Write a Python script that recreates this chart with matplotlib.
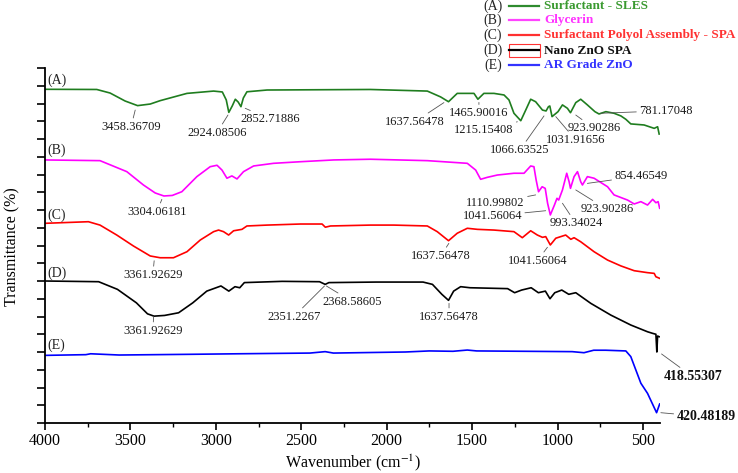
import matplotlib
matplotlib.use("Agg")
import matplotlib.pyplot as plt
from matplotlib.patches import Rectangle

plt.rcParams['font.family'] = 'Liberation Serif'
plt.rcParams['mathtext.fontset'] = 'stix'

# (A) Surfactant - SLES
sles_wn = [4000, 3697, 3619, 3531, 3458, 3384, 3326, 3169, 3013, 2962, 2939, 2924, 2904, 2886, 2869,
           2853, 2839, 2818, 2700, 2095, 1762, 1684, 1638, 1587, 1489, 1466, 1431, 1372, 1313, 1284,
           1255, 1215, 1186, 1157, 1128, 1088, 1067, 1053, 1045, 1032, 997, 971, 942, 924, 893,
           864, 825, 781, 757, 717, 669, 629, 600, 571, 493, 434, 414, 405]
sles_t = [18.80, 18.79, 18.59, 18.14, 17.88, 17.97, 18.16, 18.57, 18.70, 18.65, 18.20, 17.50, 17.86, 18.24, 18.08,
          17.82, 18.31, 18.66, 18.76, 18.79, 18.70, 18.37, 18.10, 18.57, 18.57, 18.24, 18.57, 18.57, 18.48, 18.20,
          17.45, 17.03, 17.63, 18.24, 18.10, 17.63, 17.58, 17.82, 17.86, 17.26, 17.54, 17.92, 17.73, 17.48, 18.05,
          18.24, 17.92, 17.54, 17.41, 17.54, 17.45, 17.30, 17.11, 16.85, 16.79, 16.60, 16.69, 16.28]

# (B) Glycerin
gly_wn = [4000, 3678, 3521, 3424, 3355, 3304, 3255, 3199, 3111, 3033, 2993, 2964, 2935, 2906, 2876,
          2838, 2779, 2662, 2505, 2310, 2095, 1762, 1528, 1479, 1450, 1411, 1352, 1255, 1196, 1157,
          1138, 1125, 1111, 1090, 1072, 1058, 1042, 1018, 1003, 993, 971, 946, 932, 924, 903,
          883, 864, 854, 825, 786, 707, 669, 590, 551, 512, 473, 443, 424, 411, 402]
gly_t = [14.82, 14.78, 14.16, 13.41, 12.96, 12.79, 12.82, 13.03, 13.88, 14.44, 14.52, 14.25, 13.79, 13.92, 13.75,
         14.16, 14.48, 14.63, 14.72, 14.82, 14.86, 14.78, 14.63, 14.25, 13.73, 13.84, 13.97, 14.07, 14.07, 14.48,
         14.44, 13.69, 13.03, 13.31, 13.22, 12.38, 11.72, 12.28, 12.66, 12.56, 13.13, 14.07, 13.59, 13.22, 13.88,
         14.16, 13.59, 13.41, 13.88, 13.79, 13.31, 12.85, 12.56, 12.34, 12.47, 12.28, 12.60, 12.41, 12.47, 12.10]

# (C) Surfactant Polyol Assembly - SPA
spa_wn = [4000, 3746, 3678, 3580, 3482, 3384, 3326, 3248, 3169, 3091, 3013, 2984, 2955, 2925, 2896,
          2847, 2818, 2700, 2505, 2378, 2359, 2329, 2095, 1958, 1762, 1704, 1638, 1587, 1528, 1469,
          1372, 1255, 1206, 1157, 1118, 1088, 1069, 1042, 1010, 981, 952, 922, 903, 864, 786,
          707, 629, 551, 473, 434, 424, 402]
spa_t = [11.25, 11.34, 11.15, 10.59, 9.97, 9.41, 9.31, 9.31, 9.65, 10.31, 10.78, 10.87, 10.78, 10.59, 10.83,
         10.91, 11.10, 11.15, 11.21, 11.21, 11.03, 11.10, 11.15, 11.15, 11.10, 10.78, 10.27, 10.69, 10.97, 10.91,
         10.87, 10.78, 10.44, 10.83, 10.59, 10.46, 10.50, 10.03, 10.41, 10.50, 10.59, 10.35, 10.44, 10.21, 9.65,
         9.18, 8.85, 8.58, 8.47, 8.43, 8.24, 8.15]

# (D) Nano ZnO SPA
nzno_wn = [4000, 3686, 3576, 3465, 3400, 3362, 3300, 3218, 3135, 3053, 2970, 2924, 2888, 2860, 2833,
           2612, 2393, 2360, 2338, 2062, 1787, 1732, 1677, 1638, 1608, 1567, 1512, 1292, 1251, 1210,
           1154, 1112, 1071, 1044, 1016, 975, 934, 893, 805, 688, 571, 473, 443, 424, 418.5,
           414, 405]
nzno_t = [8.00, 7.96, 7.53, 6.77, 6.15, 6.02, 6.06, 6.21, 6.77, 7.43, 7.72, 7.43, 7.68, 7.62, 7.91,
          7.98, 7.96, 7.81, 7.91, 7.94, 7.94, 7.81, 7.25, 6.91, 7.43, 7.68, 7.62, 7.57, 7.34, 7.49,
          7.62, 7.34, 7.43, 7.00, 7.34, 7.49, 7.25, 7.34, 6.74, 6.08, 5.52, 5.14, 5.05, 5.00, 4.00,
          4.90, 4.86]

# (E) AR Grade ZnO
zno_wn = [4000, 3761, 3733, 3566, 3147, 2869, 2449, 2360, 2312, 1891, 1751, 1612, 1528, 1473, 1193,
          914, 845, 788, 718, 600, 571, 512, 473, 420, 402]
zno_t = [3.81, 3.85, 3.90, 3.83, 3.87, 3.90, 3.94, 4.02, 3.94, 4.00, 4.06, 4.04, 4.11, 4.06, 4.04,
         4.02, 3.96, 4.10, 4.10, 4.06, 3.74, 2.24, 1.67, 0.58, 1.07]

# peak labels: text, point on curve, text centre
sles_peaks = ['3458.36709', '2924.08506', '2852.71886', '1637.56478', '1465.90016',
              '1215.15408', '1066.63525', '1031.91656', '923.90286', '781.17048']
sles_pk_xy = [(3472, 17.63), (2929, 17.35), (2828, 17.73), (1665, 18.05), (1460, 18.06),
              (1235, 16.97), (1079, 17.30), (1010, 17.26), (893, 17.35), (747, 17.45)]
sles_pk_txt = [(3496, 16.69), (2994, 16.35), (2681, 17.11), (1835, 16.97), (1460, 17.45),
               (1431, 16.51), (1220, 15.38), (893, 15.94), (786, 16.60), (366, 17.59)]

gly_peaks = ['3304.06181', '1110.99802', '1041.56064', '993.34024', '923.90286', '854.46549']
gly_pk_xy = [(3316, 12.60), (1128, 12.85), (1069, 11.96), (971, 12.38), (893, 13.13), (825, 13.50)]
gly_pk_txt = [(3345, 11.90), (1362, 12.41), (1381, 11.66), (893, 11.25), (711, 12.04), (512, 13.92)]

spa_peaks = ['3361.92629', '1637.56478', '1041.56064']
spa_pk_xy = [(3361, 9.14), (1636, 10.12), (1059, 9.90)]
spa_pk_txt = [(3369, 8.34), (1684, 9.41), (1118, 9.14)]

nzno_peaks = ['3361.92629', '2351.2267', '2368.58605', '1637.56478']
nzno_pk_xy = [(3364, 5.99), (2364, 7.72), (2353, 7.72), (1635, 6.74)]
nzno_pk_txt = [(3369, 5.20), (2544, 5.99), (2200, 6.83), (1635, 5.99)]

bold_peaks = ['418.55307', '420.48189']
bold_pk_xy = [(391, 3.89), (395, 0.58)]
bold_pk_txt = [(209, 2.61), (131, 0.35)]

tags = ['(A)', '(B)', '(C)', '(D)', '(E)']
names = ['Surfactant - SLES', 'Glycerin', 'Surfactant Polyol Assembly - SPA', 'Nano ZnO SPA', 'AR Grade ZnO']
tag_y = [19.32, 15.38, 11.72, 8.45, 4.39]

line_colors = ['#1f7d1f', '#ff00ff', '#ff0000', '#000000', '#0000ff']
legend_line_colors = ['#2e8b2e', '#ff44ff', '#ff3030', '#000000', '#3333ff']
text_colors = ['#3a9a30', '#ff33ff', '#ff3333', '#111111', '#3333ff']

fig = plt.figure(figsize=(7.38, 4.73), dpi=100)
ax = fig.add_axes([45 / 738, 1 - 423 / 473, 615 / 738, 355 / 473])

curves = [(sles_wn, sles_t), (gly_wn, gly_t), (spa_wn, spa_t), (nzno_wn, nzno_t), (zno_wn, zno_t)]
for (wn, t), c in zip(curves, line_colors):
    ax.plot(wn, t, color=c, lw=1.2)

ax.set_xlim(4000, 400)
ax.set_ylim(0, 20)

note_kw = dict(ha='center', va='center', annotation_clip=False,
               arrowprops=dict(arrowstyle='-', color='#555555', lw=0.6, shrinkA=0, shrinkB=0))
for peaks, pts, txts in [(sles_peaks, sles_pk_xy, sles_pk_txt), (gly_peaks, gly_pk_xy, gly_pk_txt),
                         (spa_peaks, spa_pk_xy, spa_pk_txt), (nzno_peaks, nzno_pk_xy, nzno_pk_txt)]:
    for lab, p, tx in zip(peaks, pts, txts):
        ax.annotate(lab, xy=p, xytext=tx, fontsize=9, color='#1a1a1a', **note_kw)
for lab, p, tx in zip(bold_peaks, bold_pk_xy, bold_pk_txt):
    ax.annotate(lab, xy=p, xytext=tx, fontsize=10, fontweight='bold', color='#111111', **note_kw)

for tag, y in zip(tags, tag_y):
    ax.text(3985, y, tag, fontsize=10, ha='left', va='center', color='#222222')

# axes styling
for s in ['top', 'right']:
    ax.spines[s].set_visible(False)
for s in ['left', 'bottom']:
    ax.spines[s].set_linewidth(1.3)
ax.set_yticks(range(21))
ax.set_yticklabels([])
ax.tick_params(axis='y', direction='out', length=6, width=1.2)
ax.set_xticks([4000, 3500, 3000, 2500, 2000, 1500, 1000, 500])
ax.set_xticks(range(3750, 400, -500), minor=True)
ax.tick_params(axis='x', which='major', direction='out', length=5, width=1.2, labelsize=11.5, pad=2)
ax.tick_params(axis='x', which='minor', direction='out', length=3, width=1.0)

fig.text(352.5 / 738, 1 - 463 / 473, 'Wavenumber (cm$^{-1}$)', ha='center', va='center', fontsize=11.5)
fig.text(12 / 738, 1 - 247 / 473, 'Transmittance (%)', rotation=90, ha='center', va='center', fontsize=11.5)

# legend drawn in pixel coordinates
ov = fig.add_axes([0, 0, 1, 1])
ov.set_xlim(0, 738)
ov.set_ylim(473, 0)
ov.axis('off')
leg_y = [6, 20.5, 35, 50.5, 65]
for tag, name, lc, tc, y in zip(tags, names, legend_line_colors, text_colors, leg_y):
    ov.text(493, y, tag, fontsize=10, ha='center', va='center', color='#222222')
    ov.plot([509, 539], [y, y], color=lc, lw=1.6)
    ov.text(544, y, name, fontsize=9.5, fontweight='bold', ha='left', va='center', color=tc)
ov.add_patch(Rectangle((508.5, 44), 31, 13, fill=False, edgecolor='#ff3333', lw=0.8))

fig.savefig('out.png', dpi=100)
